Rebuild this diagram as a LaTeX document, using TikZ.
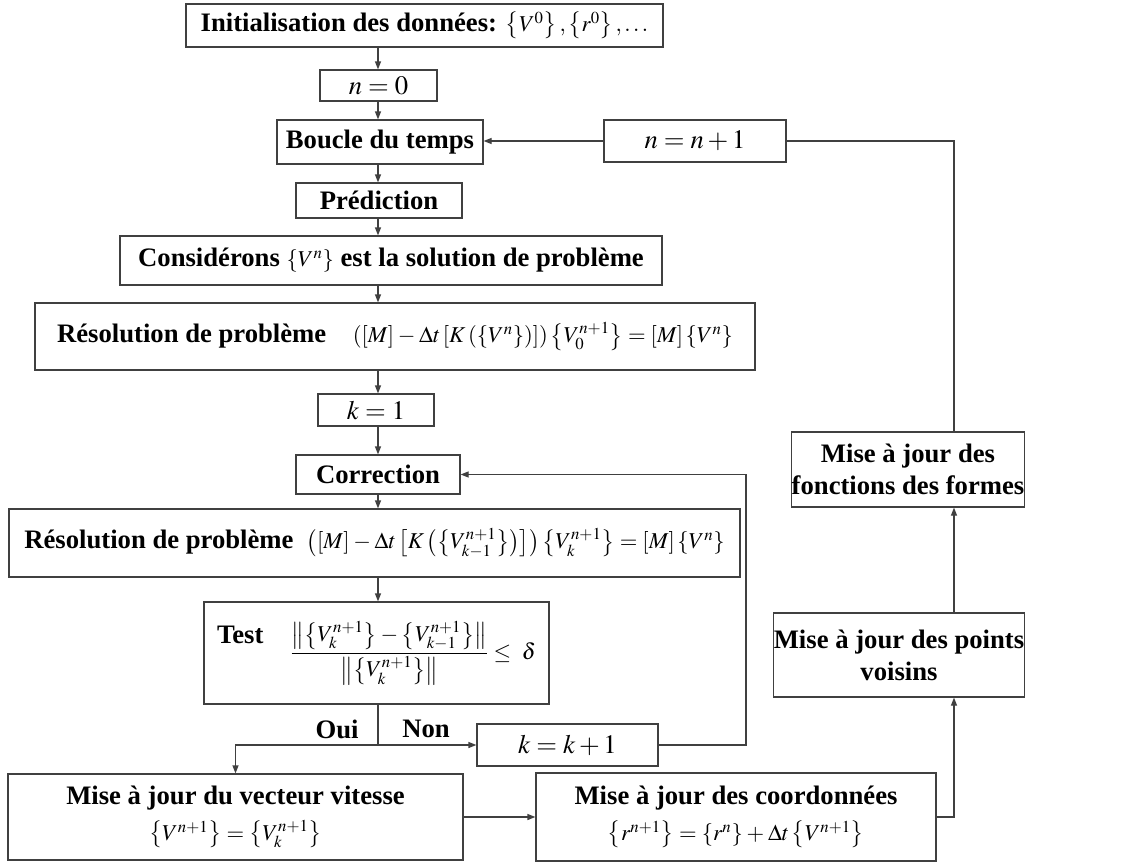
\documentclass[tikz,border=0pt]{standalone}
\usepackage{amsmath}
\usepackage{mathptmx}
\usepackage[no-math]{fontspec}
\setmainfont{Liberation Serif}
\usetikzlibrary{arrows.meta}

\definecolor{linegray}{RGB}{64,64,64}
\tikzset{every picture/.style={line width=0.9pt}}
\tikzset{
  box/.style={draw=linegray, inner sep=0pt, align=center, font=\bfseries\fontsize{20}{24}\selectfont},
  boxsize/.style 2 args={minimum width=#1*0.75pt, minimum height=#2*0.75pt},
  flow/.style={draw=linegray, -{Triangle[length=6pt,width=4.5pt]}},
  wire/.style={draw=linegray},
  lbl/.style={inner sep=0.75pt, font=\bfseries\fontsize{20}{24}\selectfont}
}
\newcommand{\vb}[1]{\left\{#1\right\}}
\newcommand{\mfs}{\fontsize{17}{21}\selectfont\medmuskip=3mu\thickmuskip=4mu}

\begin{document}
\begin{tikzpicture}[x=0.75pt,y=0.75pt,yscale=-1,xscale=1]
\useasboundingbox (0,0) rectangle (1130,864);

% main column
\node[box, boxsize={477}{43}] (init) at (424.5,25.5) {Initialisation des données: {\mfs$\vb{V^{0}}, \vb{r^{0}}, \ldots$}};
\node[box, boxsize={117}{31}] (n0) at (378.5,85.5) {$n=0$};
\node[box, boxsize={206}{44}] (boucle) at (380,142) {Boucle du temps};
\node[box, boxsize={182}{42}] (nn1) at (695,141) {$n=n+1$};
\node[box, boxsize={166}{35}] (pred) at (379,200.5) {Prédiction};
\node[box, boxsize={542}{49}] (cons) at (391,260.5) {Considérons {\mfs$\vb{V^{n}}$} est la solution de problème};
\node[box, boxsize={720}{67}] (res1) at (395,336.5) {Résolution de problème\quad {\mfs$\left(\left[M\right]-\Delta t\left[K\left(\vb{V^{n}}\right)\right]\right)\vb{V_{0}^{n+1}}=\left[M\right]\vb{V^{n}}$}};
\node[box, boxsize={116}{32}] (k1) at (376,410) {$k=1$};
\node[box, boxsize={164}{39}] (corr) at (378,474.5) {Correction};
\node[box, boxsize={731}{68}] (res2) at (374.5,543) {Résolution de problème\enspace {\mfs$\left(\left[M\right]-\Delta t\left[K\left(\vb{V_{k-1}^{n+1}}\right)\right]\right)\vb{V_{k}^{n+1}}=\left[M\right]\vb{V^{n}}$}};
\node[box, boxsize={345}{102}] (test) at (376.5,653) {\raisebox{1.3ex}{Test}\quad {\mfs$\dfrac{\left\|\vb{V_{k}^{n+1}}-\vb{V_{k-1}^{n+1}}\right\|}{\left\|\vb{V_{k}^{n+1}}\right\|}\leq\ \delta$}};
\node[box, boxsize={181}{42}] (kk1) at (567.5,745) {$k=k+1$};

% bottom and right column
\node[box, boxsize={455}{86}] (vit) at (235.5,817) {Mise à jour du vecteur vitesse\\[3pt] {\mfs$\vb{V^{n+1}}=\vb{V_{k}^{n+1}}$}};
\node[box, boxsize={400}{88}] (coord) at (736,817) {Mise à jour des coordonnées\\[3pt] {\mfs$\vb{r^{n+1}}=\vb{r^{n}}+\Delta t\vb{V^{n+1}}$}};
\node[box, boxsize={246}{84}] (vois) at (899,655) {Mise à jour des points\\ voisins};
\node[box, boxsize={228}{75}] (fonc) at (908,469.5) {Mise à jour des\\ fonctions des formes};

% Text Node
\node[lbl] (oui) at (337,729) {Oui};
% Text Node
\node[lbl] (non) at (426,729) {Non};

\coordinate (axis) at (378,0);
\coordinate (rail) at (954,141);
\coordinate (loop) at (746,474.5);

%Straight Lines
\foreach \a/\b in {init/n0,n0/boucle,boucle/pred,pred/cons,cons/res1,res1/k1,k1/corr,corr/res2,res2/test}
  \draw[flow] (\a.south -| axis) -- (\b.north -| axis);

% test branches
\draw[flow] (test.south -| axis) |- (kk1.west);
\draw[flow] (axis |- kk1.west) -| (vit.north);
\draw[flow] (kk1.east) -| (loop) -- (corr.east);

% update chain
\draw[flow] (vit.east) -- (coord.west);
\draw[flow] (coord.east) -| (rail |- vois.south);
\draw[flow] (rail |- vois.north) -- (rail |- fonc.south);
\draw[wire] (rail |- fonc.north) -- (rail) -- (nn1.east);
\draw[flow] (nn1.west) -- (nn1.west -| boucle.east);

\end{tikzpicture}
\end{document}
